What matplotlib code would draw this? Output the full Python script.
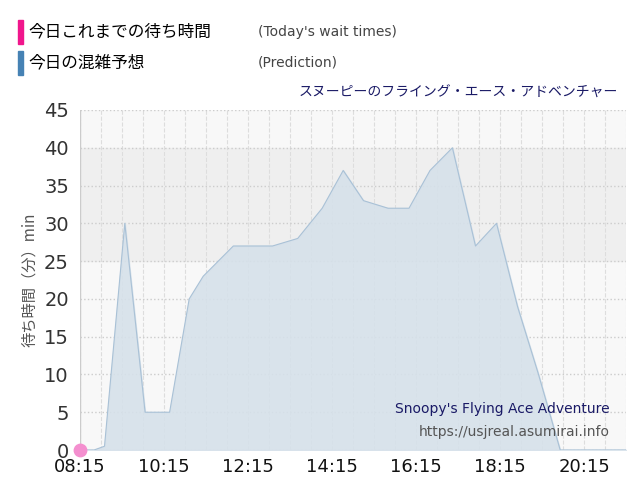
import matplotlib.pyplot as plt
import numpy as np

plt.rcParams['font.family'] = ['Noto Sans CJK JP', 'DejaVu Sans']

# wait-time prediction (time of day, minutes)
times = ['08:15', '08:35', '08:50', '09:19', '09:48', '10:23', '10:51', '11:11', '11:54',
         '12:50', '13:26', '14:01', '14:31', '15:00', '15:35', '16:05', '16:35', '17:07',
         '17:40', '18:10', '18:40', '19:10', '19:41', '20:15', '21:15']
pred = [0, 0, 0.5, 30, 5, 5, 20, 23, 27, 27, 28, 32, 37, 33, 32, 32, 37, 40,
        27, 30, 19, 10, 0, 0, 0]
today_t = ['08:15']
today_v = [0]

def to_h(s):
    h, m = s.split(':')
    return int(h) + int(m) / 60

x = [to_h(t) for t in times]
xt = [to_h(t) for t in today_t]
tick_labels = ['08:15', '10:15', '12:15', '14:15', '16:15', '18:15', '20:15']

fig = plt.figure(figsize=(6.4, 5.0), dpi=100)
ax = fig.add_axes([80/640, 50/500, 546/640, 340/500])
ax.set_facecolor('#f8f8f8')
for lo in range(0, 45, 5):
    if lo in (25, 30, 35):
        ax.axhspan(lo, lo + 5, color='#efefef', zorder=0)
ax.fill_between(x, pred, color='#d6e1ea', alpha=0.9, zorder=2)
ax.plot(x, pred, color='#a9c1d6', lw=0.8, zorder=3)
ax.scatter(xt, today_v, s=80, color='#f48fcf', zorder=4, clip_on=False)

ax.set_xlim(to_h('08:15'), to_h('21:15'))
ax.set_ylim(0, 45)
ax.set_yticks(range(0, 46, 5))
ax.set_yticklabels([str(v) for v in range(0, 46, 5)], family=['DejaVu Sans'])
ax.set_xticks([to_h(t) for t in tick_labels])
ax.set_xticklabels(tick_labels, fontsize=13, family=['DejaVu Sans'])
ax.set_xticks(np.arange(to_h('08:15'), to_h('21:15') + 0.01, 0.5), minor=True)
ax.tick_params(axis='y', labelsize=14, colors='#333333', length=0, pad=8)
ax.tick_params(axis='x', colors='#111111', length=0, which='both', pad=6)
ax.grid(axis='y', color='#cccccc', ls=':', lw=1)
ax.grid(axis='x', which='both', color='#dddddd', ls='--', lw=0.8)
for s in ax.spines.values():
    s.set_visible(False)
ax.axvline(to_h('08:15'), color='#cccccc', lw=1)
ax.set_ylabel('待ち時間（分）min', fontsize=11, color='#555555', labelpad=4)

ax.text(0.97, 0.11, "Snoopy's Flying Ace Adventure", transform=ax.transAxes,
        ha='right', fontsize=10, color='#1a1a66', family=['DejaVu Sans'])
ax.text(0.97, 0.04, 'https://usjreal.asumirai.info', transform=ax.transAxes,
        ha='right', fontsize=10, color='#555555', family=['DejaVu Sans'])
fig.text(618/640, 1 - 93/500, 'スヌーピーのフライング・エース・アドベンチャー',
         ha='right', va='center', fontsize=10, color='#1a1a66')

# legend
fig.patches.append(plt.Rectangle((18/640, 1 - 44/500), 5/640, 24/500,
                                 transform=fig.transFigure, color='#f0168c'))
fig.patches.append(plt.Rectangle((18/640, 1 - 75/500), 5/640, 24/500,
                                 transform=fig.transFigure, color='#4682b4'))
fig.text(28/640, 1 - 32/500, '今日これまでの待ち時間', va='center', fontsize=12)
fig.text(28/640, 1 - 63/500, '今日の混雑予想', va='center', fontsize=12)
fig.text(258/640, 1 - 32/500, "(Today's wait times)", va='center', fontsize=10,
         color='#444444', family=['DejaVu Sans'])
fig.text(258/640, 1 - 63/500, '(Prediction)', va='center', fontsize=10,
         color='#444444', family=['DejaVu Sans'])

fig.savefig('out.png', dpi=100)
